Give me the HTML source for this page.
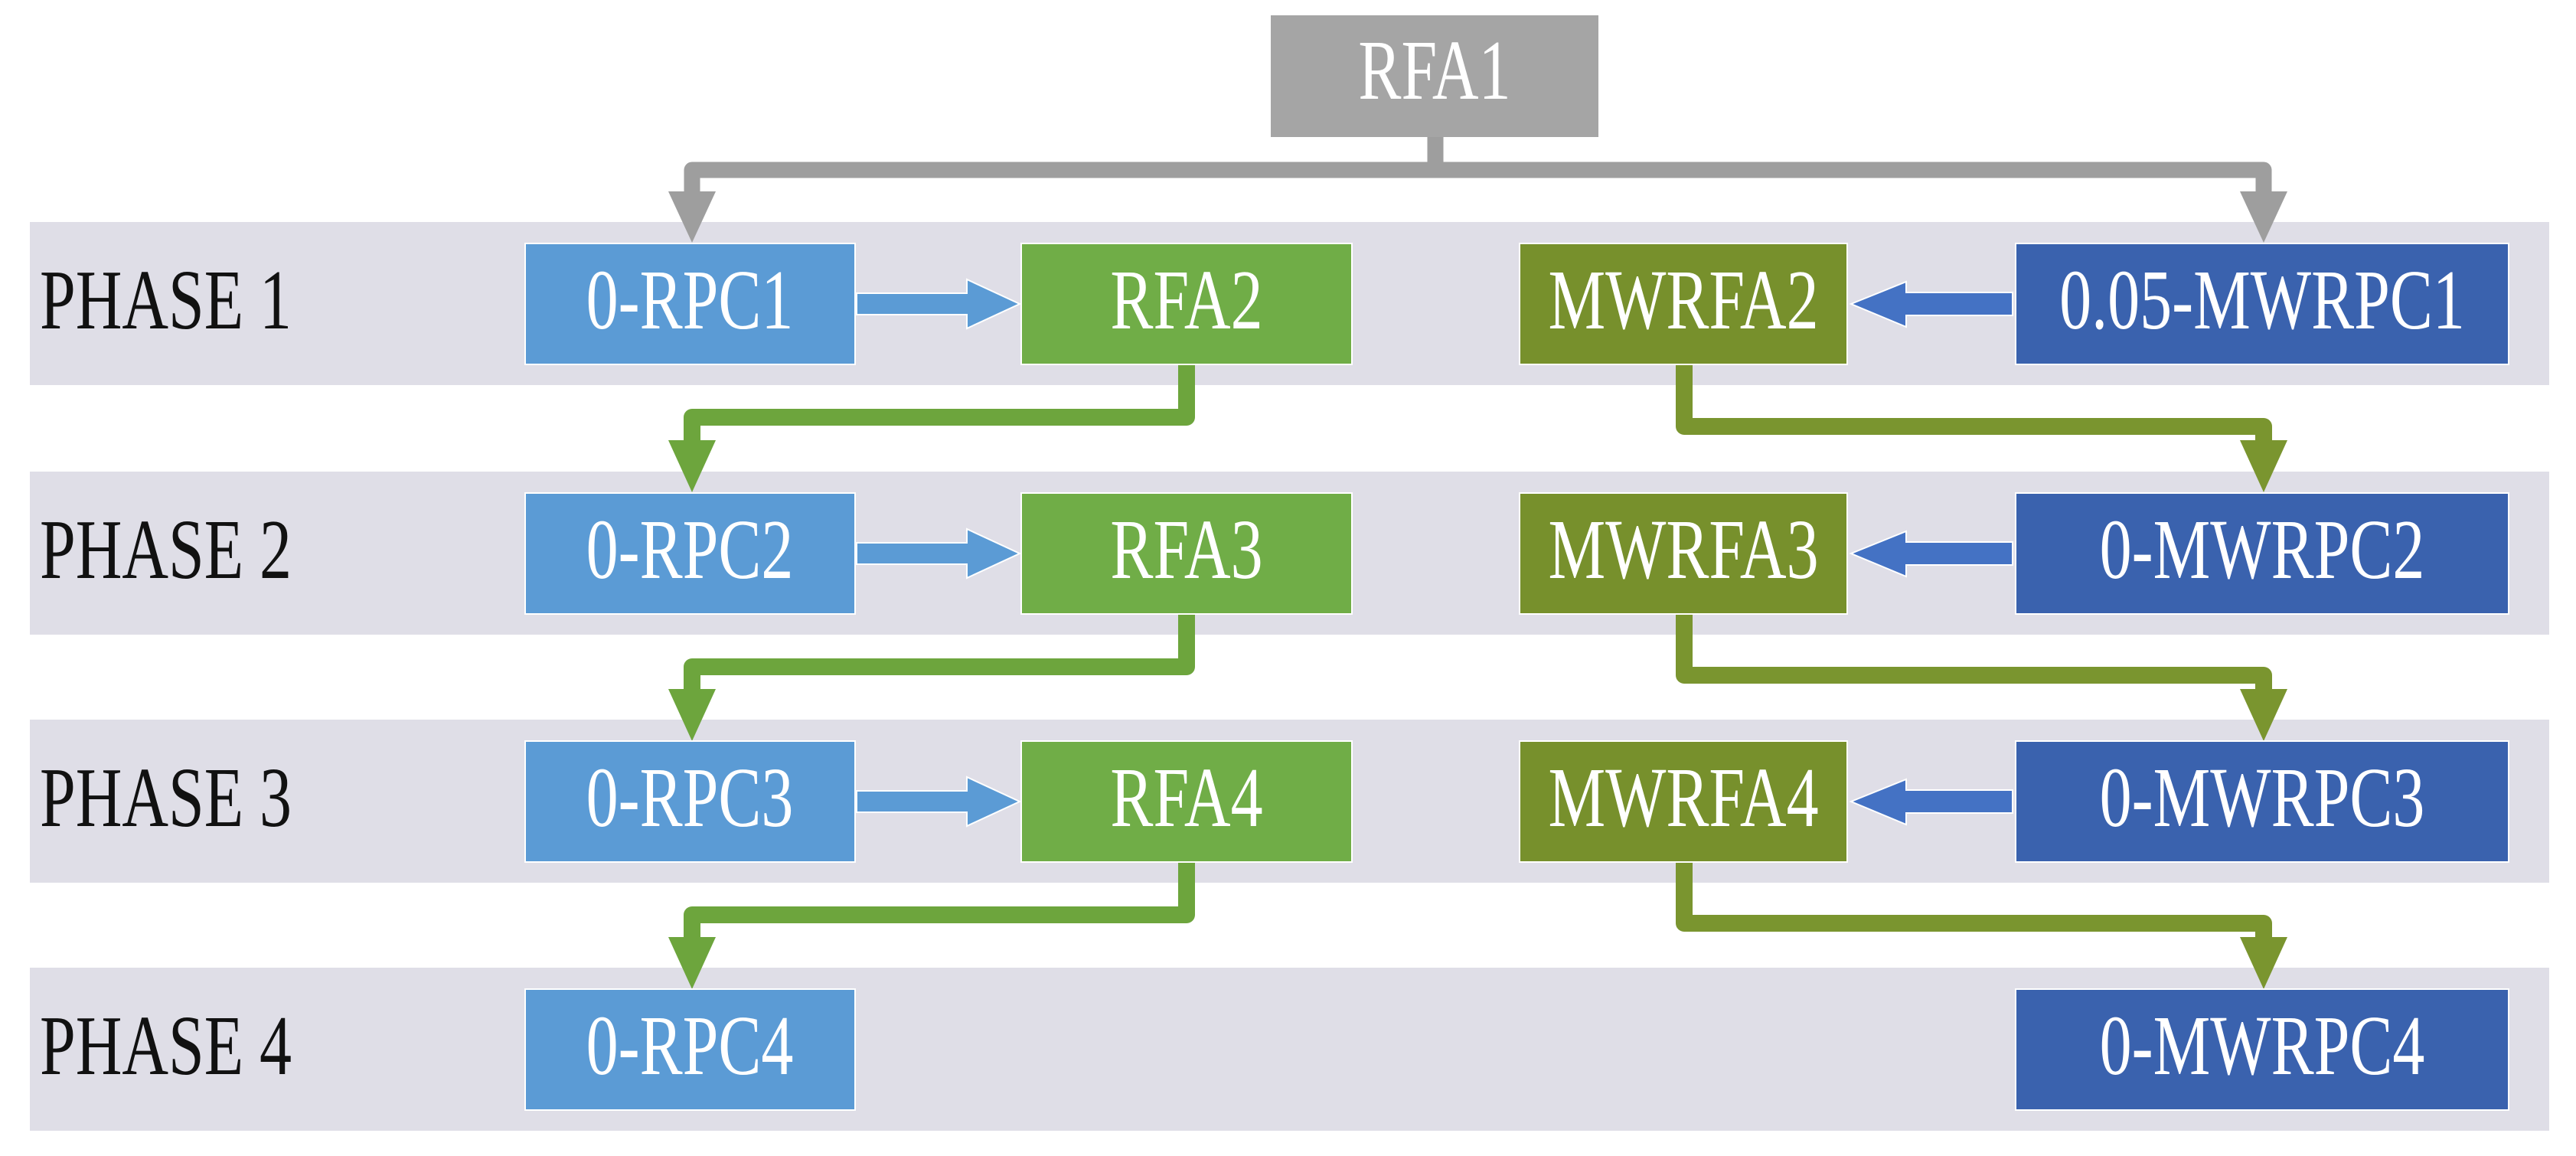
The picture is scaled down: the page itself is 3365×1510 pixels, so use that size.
<!DOCTYPE html>
<html><head><meta charset="utf-8"><style>
html,body{margin:0;padding:0;background:#fff;}
svg{display:block;}
</style></head><body>
<svg width="3365" height="1510" viewBox="0 0 3365 1510" xmlns="http://www.w3.org/2000/svg" font-family="'Liberation Serif', 'Times New Roman', serif">
<g fill="#DFDEE7">
<rect x="39" y="290" width="3291" height="213"/>
<rect x="39" y="616" width="3291" height="213"/>
<rect x="39" y="940" width="3291" height="213"/>
<rect x="39" y="1264" width="3291" height="213"/>
</g>
<g font-size="84" fill="#111" font-family="'Liberation Serif', serif">
<text transform="translate(52,429) scale(1,1.32)">PHASE 1</text>
<text transform="translate(52,755) scale(1,1.32)">PHASE 2</text>
<text transform="translate(52,1079) scale(1,1.32)">PHASE 3</text>
<text transform="translate(52,1403) scale(1,1.32)">PHASE 4</text>
</g>
<g fill="none" stroke="#9E9E9E" stroke-width="21" stroke-linejoin="round">
<polyline points="1875,179 1875,222"/>
<polyline points="904,255 904,222 2957,222 2957,255"/>
</g>
<g fill="#9E9E9E">
<polygon points="873,250 935,250 904,317"/>
<polygon points="2926,250 2988,250 2957,317"/>
</g>
<rect x="1660" y="20" width="428" height="159" fill="#A5A5A5"/>
<text transform="translate(1874,129) scale(1,1.32)" font-size="84" fill="#fff" text-anchor="middle" font-family="'Liberation Serif', serif">RFA1</text>

<g fill="none" stroke="#6DA53D" stroke-width="22" stroke-linejoin="round">
<polyline points="1550,476 1550,545 904,545 904,580"/>
<polyline points="1550,802 1550,871 904,871 904,904"/>
<polyline points="1550,1126 1550,1195 904,1195 904,1228"/>
</g>
<g fill="#6DA53D">
<polygon points="873,575 935,575 904,643"/>
<polygon points="873,900 935,900 904,968"/>
<polygon points="873,1224 935,1224 904,1292"/>
</g>
<g fill="none" stroke="#7A952F" stroke-width="22" stroke-linejoin="round">
<polyline points="2200,476 2200,557 2957,557 2957,580"/>
<polyline points="2200,802 2200,882 2957,882 2957,904"/>
<polyline points="2200,1126 2200,1206 2957,1206 2957,1228"/>
</g>
<g fill="#7A952F">
<polygon points="2926,575 2988,575 2957,643"/>
<polygon points="2926,900 2988,900 2957,968"/>
<polygon points="2926,1224 2988,1224 2957,1292"/>
</g>

<g stroke="#fff" stroke-width="2">
<rect x="686" y="318" width="431" height="158" fill="#5B9BD5"/>
<rect x="686" y="644" width="431" height="158" fill="#5B9BD5"/>
<rect x="686" y="968" width="431" height="158" fill="#5B9BD5"/>
<rect x="686" y="1292" width="431" height="158" fill="#5B9BD5"/>
<rect x="1334" y="318" width="432" height="158" fill="#70AD47"/>
<rect x="1334" y="644" width="432" height="158" fill="#70AD47"/>
<rect x="1334" y="968" width="432" height="158" fill="#70AD47"/>
<rect x="1985" y="318" width="428" height="158" fill="#77902C"/>
<rect x="1985" y="644" width="428" height="158" fill="#77902C"/>
<rect x="1985" y="968" width="428" height="158" fill="#77902C"/>
<rect x="2633" y="318" width="644" height="158" fill="#3A62AE"/>
<rect x="2633" y="644" width="644" height="158" fill="#3A62AE"/>
<rect x="2633" y="968" width="644" height="158" fill="#3A62AE"/>
<rect x="2633" y="1292" width="644" height="158" fill="#3A62AE"/>
</g>

<g fill="#5B9BD5" stroke="#fff" stroke-width="2">
<polygon points="1119,383 1263,383 1263,365 1332,397 1263,429 1263,411 1119,411"/>
<polygon points="1119,709 1263,709 1263,691 1332,723 1263,755 1263,737 1119,737"/>
<polygon points="1119,1033 1263,1033 1263,1015 1332,1047 1263,1079 1263,1061 1119,1061"/>
</g>
<g fill="#4472C4" stroke="#fff" stroke-width="2">
<polygon points="2629,382 2490,382 2490,368 2418,397 2490,427 2490,412 2629,412"/>
<polygon points="2629,708 2490,708 2490,694 2418,723 2490,753 2490,738 2629,738"/>
<polygon points="2629,1032 2490,1032 2490,1018 2418,1047 2490,1077 2490,1062 2629,1062"/>
</g>

<g font-size="84" fill="#fff" text-anchor="middle" font-family="'Liberation Serif', serif">
<text transform="translate(901,429) scale(1,1.32)">0-RPC1</text>
<text transform="translate(901,755) scale(1,1.32)">0-RPC2</text>
<text transform="translate(901,1079) scale(1,1.32)">0-RPC3</text>
<text transform="translate(901,1403) scale(1,1.32)">0-RPC4</text>
<text transform="translate(1550,429) scale(1,1.32)">RFA2</text>
<text transform="translate(1550,755) scale(1,1.32)">RFA3</text>
<text transform="translate(1550,1079) scale(1,1.32)">RFA4</text>
<text transform="translate(2199,429) scale(1,1.32)">MWRFA2</text>
<text transform="translate(2199,755) scale(1,1.32)">MWRFA3</text>
<text transform="translate(2199,1079) scale(1,1.32)">MWRFA4</text>
<text transform="translate(2955,429) scale(1,1.32)">0.05-MWRPC1</text>
<text transform="translate(2955,755) scale(1,1.32)">0-MWRPC2</text>
<text transform="translate(2955,1079) scale(1,1.32)">0-MWRPC3</text>
<text transform="translate(2955,1403) scale(1,1.32)">0-MWRPC4</text>
</g>
</svg>
</body></html>
